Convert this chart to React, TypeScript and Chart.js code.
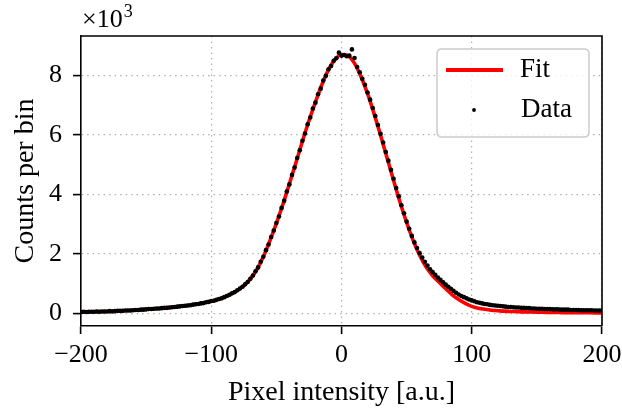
import React, { useEffect, useRef } from 'react';
import { Chart, registerables } from 'chart.js';

Chart.register(...registerables);

// Histogram bins: centres from -200 to 200, step 2 (pixel intensity, a.u.)
const binStart = -200;
const binStep = 2;
// Counts per bin, in thousands (×10^3)
const dataCounts = [
  0.04, 0.05, 0.04, 0.05, 0.05, 0.05, 0.06, 0.05, 0.06, 0.06,
  0.06, 0.07, 0.06, 0.07, 0.08, 0.08, 0.08, 0.09, 0.09, 0.09,
  0.10, 0.11, 0.11, 0.12, 0.12, 0.13, 0.14, 0.14, 0.15, 0.16,
  0.16, 0.17, 0.18, 0.18, 0.19, 0.20, 0.21, 0.22, 0.23, 0.24,
  0.25, 0.26, 0.27, 0.29, 0.30, 0.31, 0.33, 0.34, 0.37, 0.38,
  0.41, 0.42, 0.45, 0.48, 0.50, 0.54, 0.58, 0.62, 0.67, 0.71,
  0.77, 0.83, 0.89, 0.97, 1.05, 1.16, 1.27, 1.41, 1.54, 1.73,
  1.90, 2.12, 2.31, 2.56, 2.78, 3.03, 3.25, 3.54, 3.78, 4.09,
  4.33, 4.65, 4.90, 5.22, 5.48, 5.80, 6.04, 6.35, 6.58, 6.88,
  7.08, 7.36, 7.55, 7.82, 7.98, 8.20, 8.31, 8.49, 8.57, 8.76,
  8.66, 8.68, 8.64, 8.66, 8.87, 8.58, 8.28, 8.10, 7.88, 7.68,
  7.42, 7.18, 6.90, 6.63, 6.33, 6.03, 5.74, 5.42, 5.13, 4.82,
  4.52, 4.21, 3.93, 3.63, 3.36, 3.08, 2.84, 2.60, 2.38, 2.19,
  2.02, 1.87, 1.73, 1.60, 1.48, 1.38, 1.29, 1.20, 1.12, 1.04,
  0.96, 0.89, 0.82, 0.75, 0.69, 0.63, 0.58, 0.54, 0.50, 0.46,
  0.43, 0.40, 0.37, 0.35, 0.33, 0.31, 0.30, 0.28, 0.27, 0.26,
  0.25, 0.24, 0.23, 0.22, 0.21, 0.21, 0.20, 0.19, 0.19, 0.18,
  0.18, 0.17, 0.17, 0.16, 0.16, 0.15, 0.15, 0.15, 0.14, 0.14,
  0.14, 0.13, 0.13, 0.13, 0.12, 0.12, 0.12, 0.12, 0.11, 0.11,
  0.11, 0.11, 0.10, 0.10, 0.10, 0.10, 0.10, 0.09, 0.09, 0.09,
  0.09,
];

// Fit curve sampled from -200 to 200, step 5
const fitStart = -200;
const fitStep = 5;
const fitValues = [
  0.04, 0.045, 0.05, 0.055, 0.06, 0.07, 0.08, 0.09, 0.10, 0.115,
  0.13, 0.145, 0.16, 0.18, 0.20, 0.225, 0.25, 0.28, 0.31, 0.355,
  0.40, 0.46, 0.54, 0.64, 0.76, 0.93, 1.15, 1.47, 1.90, 2.43,
  3.02, 3.66, 4.35, 5.06, 5.78, 6.47, 7.10, 7.69, 8.18, 8.53,
  8.70, 8.66, 8.40, 7.95, 7.38, 6.71, 5.98, 5.22, 4.46, 3.72,
  3.05, 2.45, 1.95, 1.55, 1.26, 1.04, 0.82, 0.62, 0.46, 0.33,
  0.23, 0.17, 0.13, 0.10, 0.085, 0.07, 0.06, 0.05, 0.045, 0.04,
  0.035, 0.03, 0.027, 0.024, 0.021, 0.019, 0.017, 0.015, 0.013, 0.012,
  0.011,
];

const xTicks = [-200, -100, 0, 100, 200];
const yTicks = [0, 2, 4, 6, 8];
const xRange = [-200, 200];
const yRange = [-0.43, 9.32];
const seriesLabels = ['Fit', 'Data'];
const xTitle = 'Pixel intensity [a.u.]';
const yTitle = 'Counts per bin';

const FONT = '"Liberation Serif", "Times New Roman", serif';

const decorPlugin = {
  id: 'decor',
  afterDraw(chart: any) {
    const { ctx, chartArea: a } = chart;
    ctx.save();
    // top and right frame
    ctx.strokeStyle = '#000';
    ctx.lineWidth = 1.6;
    ctx.beginPath();
    ctx.moveTo(a.left, a.top);
    ctx.lineTo(a.right, a.top);
    ctx.lineTo(a.right, a.bottom);
    ctx.stroke();

    // multiplier label ×10^3
    ctx.fillStyle = '#000';
    ctx.textAlign = 'left';
    ctx.textBaseline = 'alphabetic';
    ctx.font = `26px ${FONT}`;
    const base = '\u00d710';
    ctx.fillText(base, a.left + 1, a.top - 9);
    const w = ctx.measureText(base).width;
    ctx.font = `18px ${FONT}`;
    ctx.fillText('3', a.left + 1 + w + 1, a.top - 19);

    // legend
    const lx = a.right - 165;
    const ly = a.top + 13;
    const lw = 152;
    const lh = 88;
    const r = 5;
    ctx.beginPath();
    ctx.moveTo(lx + r, ly);
    ctx.lineTo(lx + lw - r, ly);
    ctx.quadraticCurveTo(lx + lw, ly, lx + lw, ly + r);
    ctx.lineTo(lx + lw, ly + lh - r);
    ctx.quadraticCurveTo(lx + lw, ly + lh, lx + lw - r, ly + lh);
    ctx.lineTo(lx + r, ly + lh);
    ctx.quadraticCurveTo(lx, ly + lh, lx, ly + lh - r);
    ctx.lineTo(lx, ly + r);
    ctx.quadraticCurveTo(lx, ly, lx + r, ly);
    ctx.closePath();
    ctx.fillStyle = 'rgba(255,255,255,0.8)';
    ctx.fill();
    ctx.strokeStyle = '#cccccc';
    ctx.lineWidth = 1.5;
    ctx.stroke();

    // Fit entry
    ctx.strokeStyle = '#ff0000';
    ctx.lineWidth = 4;
    ctx.beginPath();
    ctx.moveTo(lx + 9, ly + 21);
    ctx.lineTo(lx + 66, ly + 21);
    ctx.stroke();
    // Data entry
    ctx.fillStyle = '#000';
    ctx.beginPath();
    ctx.arc(lx + 37, ly + 61, 1.9, 0, Math.PI * 2);
    ctx.fill();

    ctx.font = `27px ${FONT}`;
    ctx.textBaseline = 'middle';
    ctx.fillText(seriesLabels[0], lx + 83, ly + 21);
    ctx.fillText(seriesLabels[1], lx + 84, ly + 61);
    ctx.restore();
  },
};

export default function App() {
  const canvasRef = useRef<HTMLCanvasElement | null>(null);

  useEffect(() => {
    const canvas = canvasRef.current;
    if (!canvas) return;
    const dataPoints = dataCounts.map((v, i) => ({ x: binStart + i * binStep, y: v }));
    const fitPoints = fitValues.map((v, i) => ({ x: fitStart + i * fitStep, y: v }));

    const chart = new Chart(canvas, {
      type: 'scatter',
      data: {
        datasets: [
          {
            label: seriesLabels[1],
            data: dataPoints,
            showLine: false,
            pointRadius: 2.3,
            pointBorderWidth: 0,
            pointBackgroundColor: '#000',
            pointBorderColor: '#000',
          },
          {
            label: seriesLabels[0],
            data: fitPoints,
            showLine: true,
            borderColor: '#ff0000',
            borderWidth: 3.6,
            pointRadius: 0,
            cubicInterpolationMode: 'monotone',
            fill: false,
          },
        ],
      } as any,
      plugins: [decorPlugin],
      options: {
        animation: false,
        responsive: false,
        devicePixelRatio: 1,
        layout: { padding: { top: 36, right: 20, left: 0, bottom: 0 } },
        plugins: {
          legend: { display: false },
          tooltip: { enabled: false },
          title: { display: false },
        },
        scales: {
          x: {
            type: 'linear',
            min: xRange[0],
            max: xRange[1],
            afterBuildTicks: (s: any) => {
              s.ticks = xTicks.map((v) => ({ value: v }));
            },
            afterFit: (s: any) => {
              s.height = 86;
              s.paddingLeft = 0;
              s.paddingRight = 0;
            },
            ticks: {
              autoSkip: false,
              maxRotation: 0,
              color: '#000',
              padding: 6,
              font: { family: FONT, size: 26 },
              callback: (v: any) => (Number(v) < 0 ? '\u2212' + Math.abs(Number(v)) : String(v)),
            },
            grid: {
              color: '#b0b0b0',
              lineWidth: 1.2,
              tickLength: 8,
              tickWidth: 1.6,
              tickColor: '#000',
            },
            border: { display: true, color: '#000', width: 1.6, dash: [1.5, 4] },
            title: {
              display: true,
              text: xTitle,
              color: '#000',
              font: { family: FONT, size: 28 },
              padding: { top: 0, bottom: 3 },
            },
          },
          y: {
            type: 'linear',
            min: yRange[0],
            max: yRange[1],
            afterBuildTicks: (s: any) => {
              s.ticks = yTicks.map((v) => ({ value: v }));
            },
            afterFit: (s: any) => {
              s.width = 81;
              s.paddingTop = 0;
              s.paddingBottom = 0;
            },
            ticks: {
              autoSkip: false,
              color: '#000',
              padding: 11,
              font: { family: FONT, size: 26 },
              callback: (v: any) => String(v),
            },
            grid: {
              color: '#b0b0b0',
              lineWidth: 1.2,
              tickLength: 8,
              tickWidth: 1.6,
              tickColor: '#000',
            },
            border: { display: true, color: '#000', width: 1.6, dash: [1.5, 4] },
            title: {
              display: true,
              text: yTitle,
              color: '#000',
              font: { family: FONT, size: 28 },
              padding: { top: 9, bottom: 0 },
            },
          },
        },
      } as any,
    });
    return () => chart.destroy();
  }, []);

  return (
    <div style={{ position: 'fixed', left: 0, top: 0, width: 622, height: 412, background: '#fff' }}>
      <canvas ref={canvasRef} width={622} height={412} style={{ display: 'block' }} />
    </div>
  );
}
